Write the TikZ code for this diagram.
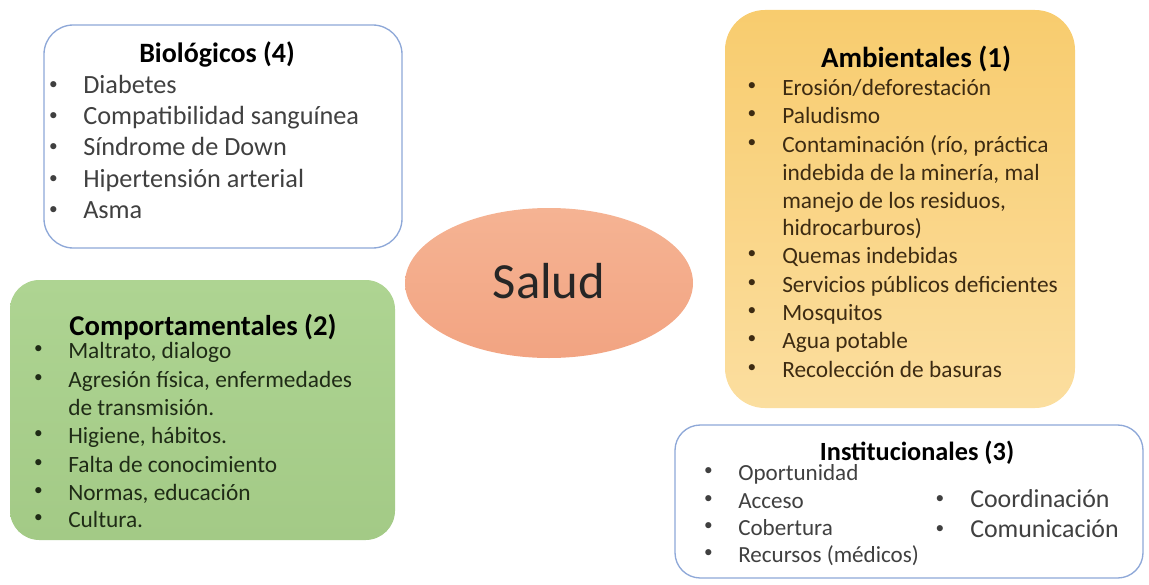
\documentclass[tikz,border=0pt]{standalone}
\usepackage{fontspec}
\setmainfont{Carlito}
\usetikzlibrary{shapes.geometric}
\definecolor{bluerim}{HTML}{8EA8D8}
\definecolor{greenTop}{HTML}{AED492}
\definecolor{greenBot}{HTML}{A3CA86}
\definecolor{yellowTop}{HTML}{F8CC6E}
\definecolor{yellowBot}{HTML}{FBDE9F}
\definecolor{salmonTop}{HTML}{F5B393}
\definecolor{salmonBot}{HTML}{F2A482}
\definecolor{graytext}{HTML}{404040}
\definecolor{greentext}{HTML}{1F2B16}
\definecolor{browntext}{HTML}{3D2B12}
\tikzset{
  panel/.style={draw, rounded corners=#1, inner sep=0pt},
  whitepanel/.style={panel=22pt, draw=bluerim, line width=1pt, fill=white},
  greenpanel/.style={panel=22pt, draw=none, top color=greenTop, bottom color=greenBot},
  yellowpanel/.style={panel=30pt, draw=none, top color=yellowTop, bottom color=yellowBot},
  heading/.style={anchor=base, inner sep=0pt, font=\bfseries\fontsize{#1}{#1}\selectfont},
  item/.style={anchor=base west, inner sep=0pt, font=\fontsize{#1}{#1}\selectfont},
  dot/.style={anchor=center, inner sep=0pt, text=#1, font=\fontsize{13pt}{13pt}\selectfont},
}
% list bullet centred at x, about 8px above the baseline y
\newcommand{\listdot}[4]{\node[dot=#4] (#1) at (#2,{#3-8}) {\textbullet};}
\begin{document}
\begin{tikzpicture}[x=0.75pt, y=-0.75pt]
\useasboundingbox (0,0) rectangle (1149,585);

% Panels
\node[whitepanel, minimum width=268.5pt, minimum height=167.25pt] (bio) at (223,136.5) {};
\node[greenpanel, minimum width=288.75pt, minimum height=195pt] (comp) at (202.5,410) {};
\node[yellowpanel, minimum width=262.5pt, minimum height=298.5pt] (amb) at (900,209) {};
\node[whitepanel, panel=19pt, minimum width=351pt, minimum height=114.75pt] (inst) at (909,501.5) {};

% Central ellipse
\node[ellipse, draw=none, top color=salmonTop, bottom color=salmonBot, inner sep=0pt,
      minimum width=216pt, minimum height=112.5pt] (salud) at (549,283) {};
\node[anchor=base, inner sep=0pt, font=\fontsize{38pt}{38pt}\selectfont, text=black!85] (saludtxt) at (549,298) {Salud};

% Biológicos
\node[heading=21pt] (bioh) at (217,63) {Biológicos (4)};
\foreach \t [count=\i] in {Diabetes, Compatibilidad sanguínea, Síndrome de Down, Hipertensión arterial, Asma}{
  \listdot{biob\i}{53.5}{62+31.3*\i}{graytext}
  \node[item=19.7pt, text=graytext] (bioi\i) at (83,{62+31.3*\i}) {\t};
}

% Comportamentales
\node[heading=21.5pt, text=black] (comph) at (203,335) {Comportamentales (2)};
\begin{scope}[every node/.append style={item=17.5pt, text=greentext}]
\node (compi1) at (68,358) {Maltrato, dialogo};
\node (compi2) at (68,387) {Agresión física, enfermedades};
\node (compi2b) at (68,415) {de transmisión.};
\node (compi3) at (68,443) {Higiene, hábitos.};
\node (compi4) at (68,472) {Falta de conocimiento};
\node (compi5) at (68,500) {Normas, educación};
\node (compi6) at (68,527) {Cultura.};
\end{scope}
\listdot{compb1}{38.5}{358}{greentext}
\listdot{compb2}{38.5}{387}{greentext}
\listdot{compb3}{38.5}{443}{greentext}
\listdot{compb4}{38.5}{472}{greentext}
\listdot{compb5}{38.5}{500}{greentext}
\listdot{compb6}{38.5}{527}{greentext}

% Ambientales
\node[heading=21.7pt, text=black] (ambh) at (916,68) {Ambientales (1)};
\begin{scope}[every node/.append style={item=17.5pt, text=browntext}]
\node (ambi1) at (782,95) {Erosión/deforestación};
\node (ambi2) at (782,123) {Paludismo};
\node (ambi3) at (782,152) {Contaminación (río, práctica};
\node (ambi3b) at (782,180) {indebida de la minería, mal};
\node (ambi3c) at (782,208) {manejo de los residuos,};
\node (ambi3d) at (782,235) {hidrocarburos)};
\node (ambi4) at (782,263) {Quemas indebidas};
\node (ambi5) at (782,292) {Servicios públicos deficientes};
\node (ambi6) at (782,320) {Mosquitos};
\node (ambi7) at (782,348) {Agua potable};
\node (ambi8) at (782,377) {Recolección de basuras};
\end{scope}
\listdot{ambb1}{752}{95}{browntext}
\listdot{ambb2}{752}{123}{browntext}
\listdot{ambb3}{752}{152}{browntext}
\listdot{ambb4}{752}{263}{browntext}
\listdot{ambb5}{752}{292}{browntext}
\listdot{ambb6}{752}{320}{browntext}
\listdot{ambb7}{752}{348}{browntext}
\listdot{ambb8}{752}{377}{browntext}

% Institucionales
\node[heading=19.7pt, text=black] (insth) at (917,460) {Institucionales (3)};
\begin{scope}[every node/.append style={item=17.3pt, text=graytext}]
\node (insti1) at (738,480) {Oportunidad};
\node (insti2) at (738,508) {Acceso};
\node (insti3) at (738,535) {Cobertura};
\node (insti4) at (738,562) {Recursos (médicos)};
\end{scope}
\begin{scope}[every node/.append style={item=19.4pt, text=graytext}]
\node (insti5) at (970,507) {Coordinación};
\node (insti6) at (970,537) {Comunicación};
\end{scope}
\listdot{instb1}{708.5}{480}{graytext}
\listdot{instb2}{708.5}{508}{graytext}
\listdot{instb3}{708.5}{535}{graytext}
\listdot{instb4}{708.5}{562}{graytext}
\listdot{instb5}{940}{508}{graytext}
\listdot{instb6}{940}{538}{graytext}
\end{tikzpicture}
\end{document}
